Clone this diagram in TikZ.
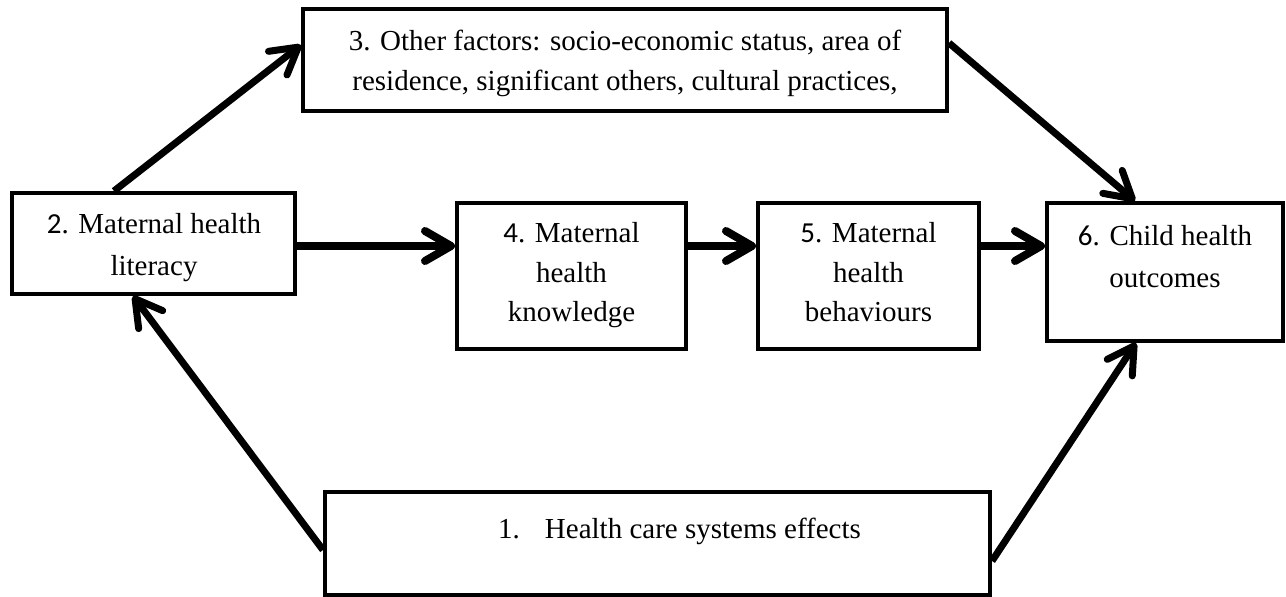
\documentclass[tikz,border=0pt]{standalone}
\usepackage{fontspec}
\setmainfont{Liberation Serif}
\newfontfamily\calfont{Carlito}
\usetikzlibrary{arrows.meta}
\begin{document}
\begin{tikzpicture}[x=1pt,y=-1pt,
  box/.style={draw=black,line width=4pt,rectangle,inner sep=0pt,fill=white},
  txt/.style={anchor=base,inner sep=0pt,font=\fontsize{29}{40}\selectfont},
  arr/.style={line width=8pt,-{Straight Barb[length=26pt,width=30pt,round]}},
  darr/.style={line width=7pt,-{Straight Barb[length=26pt,width=30pt,round]}}]
\useasboundingbox[fill=white] (0,0) rectangle (1286,597);
% boxes
\node[box,minimum width=644pt,minimum height=102pt] (b3) at (625,60) {};
\node[box,minimum width=283pt,minimum height=101pt] (b2) at (153.5,243.5) {};
\node[box,minimum width=229pt,minimum height=146pt] (b4) at (571.5,276) {};
\node[box,minimum width=221pt,minimum height=146pt] (b5) at (868.5,276) {};
\node[box,minimum width=236pt,minimum height=138pt] (b6) at (1165,272) {};
\node[box,minimum width=665pt,minimum height=103pt] (b1) at (657.5,543.5) {};
% texts
\node[txt] (t3a) at (625,50) {3. Other factors: socio-economic status, area of};
\node[txt] (t3b) at (625,90) {residence, significant others, cultural practices,};
\node[txt] (t2a) at (154,233) {{\calfont 2}. Maternal health};
\node[txt] (t2b) at (154,275) {literacy};
\node[txt] (t4a) at (571.5,242) {{\calfont 4}. Maternal};
\node[txt] (t4b) at (571.5,282) {health};
\node[txt] (t4c) at (571.5,321) {knowledge};
\node[txt] (t5a) at (868.5,242) {{\calfont 5}. Maternal};
\node[txt] (t5b) at (868.5,282) {health};
\node[txt] (t5c) at (868.5,321) {behaviours};
\node[txt] (t6a) at (1165,245) {{\calfont 6}. Child health};
\node[txt] (t6b) at (1165,287) {outcomes};
\node[txt,anchor=base west] (t1) at (498,538) {1.\hspace{25pt}Health care systems effects};
% connectors
\draw[darr] ([xshift=-39.5pt]b2.north) -- ([yshift=15pt]b3.west);
\draw[darr] ([yshift=17pt]b3.east) -- ([xshift=-30pt]b6.north);
\draw[arr] ([yshift=-2.5pt]b2.east) -- ([yshift=30pt]b4.west);
\draw[arr] ([yshift=30pt]b4.east) -- ([yshift=30pt]b5.west);
\draw[arr] ([yshift=30pt]b5.east) -- ([yshift=26pt]b6.west);
\draw[darr] ([yshift=-6.5pt]b1.west) -- ([xshift=-20.5pt]b2.south);
\draw[darr] ([yshift=-17.5pt]b1.east) -- ([xshift=-29pt]b6.south);
\end{tikzpicture}
\end{document}
